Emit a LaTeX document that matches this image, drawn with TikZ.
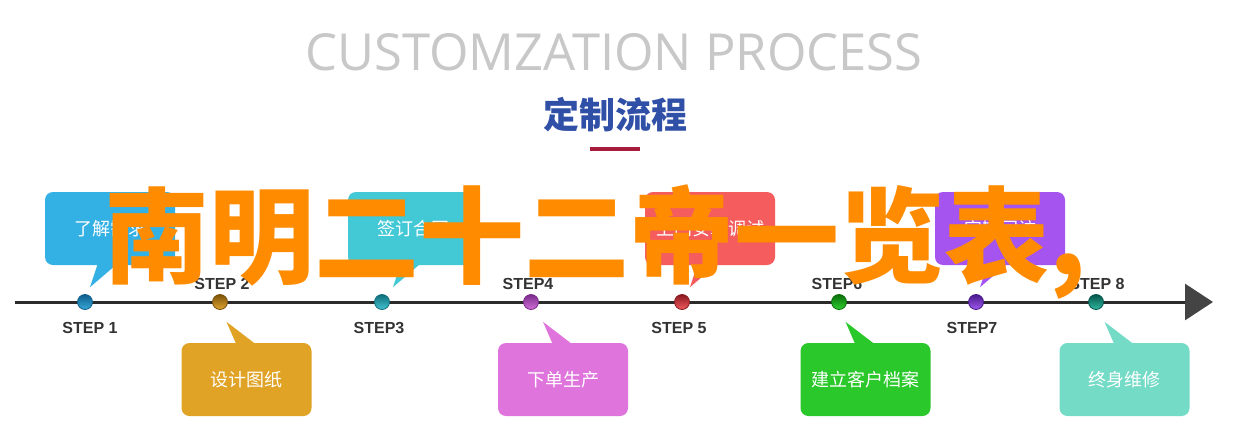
\documentclass[tikz,border=0pt]{standalone}
\usepackage{fontspec}
\setmainfont{Liberation Sans}
\newfontfamily\cjk{Noto Sans CJK SC}
\newfontfamily\titlefont{Open Sans}
\usetikzlibrary{calc,arrows.meta}
\definecolor{titlegray}{HTML}{C8C8C8}
\definecolor{subblue}{HTML}{3050A8}
\definecolor{barred}{HTML}{A51C3C}
\definecolor{linecol}{HTML}{2B2B2B}
\definecolor{arrowgray}{HTML}{444444}
\definecolor{labelcol}{HTML}{333333}
\definecolor{wmorange}{HTML}{FF8C00}
\definecolor{cA}{HTML}{33B0E4}
\definecolor{cB}{HTML}{E0A326}
\definecolor{cC}{HTML}{43C8D6}
\definecolor{cD}{HTML}{DF75DC}
\definecolor{cE}{HTML}{F45C5E}
\definecolor{cF}{HTML}{2AC82A}
\definecolor{cG}{HTML}{A554EF}
\definecolor{cH}{HTML}{73DBC6}
\begin{document}
\begin{tikzpicture}[x=1pt,y=-1pt,
  box/.style={rounded corners=8pt, minimum width=130pt, minimum height=73pt, inner sep=0pt,
    text=white, font=\cjk\fontsize{18}{18}\selectfont},
  stepdot/.style={circle, minimum size=15pt, inner sep=0pt, line width=0.8pt},
  steplabel/.style={inner sep=0pt, text=labelcol, font=\bfseries\fontsize{16}{16}\selectfont}]
\fill[white] (0,0) rectangle (1246,442);
\useasboundingbox (0,0) rectangle (1246,442);

% titles
\node[anchor=base, inner sep=0pt, text=titlegray] (title) at (614,70)
  {\resizebox{617pt}{37pt}{\titlefont CUSTOMZATION PROCESS}};
\node[inner sep=0pt, text=subblue, font=\cjk\bfseries\fontsize{36}{36}\selectfont] (sub) at (615,115) {定制流程};
\node[fill=barred, minimum width=50pt, minimum height=4pt, inner sep=0pt] (bar) at (615,149) {};

% timeline
\coordinate (start) at (15,302);
\coordinate (end) at (1213,302);
\draw[line width=3pt, linecol, -{Triangle[length=28pt,width=36pt,color=arrowgray]}] (start) -- (end);

% top boxes
\node[box, fill=cA] (b1) at (110,228.5) {了解需求};
\node[box, fill=cC] (b3) at (413,228.5) {签订合同};
\node[box, fill=cE] (b5) at (710,228.5) {上门安装调试};
\node[box, fill=cG] (b7) at (1000,228.5) {定期回访};
\fill[cA] ($(b1.south)+(-12,-2)$) -- ($(b1.south)+(-20,22)$) -- ($(b1.south)+(8,-2)$) -- cycle;
\fill[cC] ($(b3.south)+(-12,-2)$) -- ($(b3.south)+(-20,22)$) -- ($(b3.south)+(8,-2)$) -- cycle;
\fill[cE] ($(b5.south)+(-12,-2)$) -- ($(b5.south)+(-20,22)$) -- ($(b5.south)+(8,-2)$) -- cycle;
\fill[cG] ($(b7.south)+(-12,-2)$) -- ($(b7.south)+(-20,22)$) -- ($(b7.south)+(8,-2)$) -- cycle;

% bottom boxes
\node[box, fill=cB] (b2) at (246.5,379.5) {设计图纸};
\node[box, fill=cD] (b4) at (563,379.5) {下单生产};
\node[box, fill=cF] (b6) at (865.5,379.5) {建立客户档案};
\node[box, fill=cH] (b8) at (1124.5,379.5) {终身维修};
\fill[cB] ($(b2.north)+(-10,2)$) -- ($(b2.north)+(-20,-21)$) -- ($(b2.north)+(10,2)$) -- cycle;
\fill[cD] ($(b4.north)+(-10,2)$) -- ($(b4.north)+(-20,-21)$) -- ($(b4.north)+(10,2)$) -- cycle;
\fill[cF] ($(b6.north)+(-10,2)$) -- ($(b6.north)+(-20,-21)$) -- ($(b6.north)+(10,2)$) -- cycle;
\fill[cH] ($(b8.north)+(-10,2)$) -- ($(b8.north)+(-20,-21)$) -- ($(b8.north)+(10,2)$) -- cycle;

% dots
\node[stepdot, draw={rgb,255:red,13;green,95;blue,140}, top color={rgb,255:red,13;green,95;blue,140}, bottom color={rgb,255:red,58;green,168;blue,216}] (d1) at (85,302) {};
\node[stepdot, draw={rgb,255:red,122;green,82;blue,8}, top color={rgb,255:red,122;green,82;blue,8}, bottom color={rgb,255:red,224;green,165;blue,48}] (d2) at (220,302) {};
\node[stepdot, draw={rgb,255:red,14;green,110;blue,122}, top color={rgb,255:red,14;green,110;blue,122}, bottom color={rgb,255:red,69;green,196;blue,210}] (d3) at (382,302) {};
\node[stepdot, draw={rgb,255:red,122;green,42;blue,138}, top color={rgb,255:red,122;green,42;blue,138}, bottom color={rgb,255:red,208;green,112;blue,216}] (d4) at (531,302) {};
\node[stepdot, draw={rgb,255:red,138;green,26;blue,32}, top color={rgb,255:red,138;green,26;blue,32}, bottom color={rgb,255:red,240;green,90;blue,94}] (d5) at (682,302) {};
\node[stepdot, draw={rgb,255:red,10;green,110;blue,10}, top color={rgb,255:red,10;green,110;blue,10}, bottom color={rgb,255:red,48;green,208;blue,48}] (d6) at (839,302) {};
\node[stepdot, draw={rgb,255:red,74;green,26;blue,138}, top color={rgb,255:red,74;green,26;blue,138}, bottom color={rgb,255:red,160;green,88;blue,240}] (d7) at (976,302) {};
\node[stepdot, draw={rgb,255:red,5;green,85;blue,74}, top color={rgb,255:red,5;green,85;blue,74}, bottom color={rgb,255:red,48;green,184;blue,160}] (d8) at (1096,302) {};

% step labels
\node[steplabel] (s1) at (90,327.5) {STEP 1};
\node[steplabel] (s2) at (222,283.5) {STEP 2};
\node[steplabel] (s3) at (379,327.5) {STEP3};
\node[steplabel] (s4) at (528,283.5) {STEP4};
\node[steplabel] (s5) at (679,327.5) {STEP 5};
\node[steplabel] (s6) at (837,283.5) {STEP6};
\node[steplabel] (s7) at (972,327.5) {STEP7};
\node[steplabel] (s8) at (1097,283.5) {STEP 8};

% overlay text
\node[anchor=base west, inner sep=0pt, text=wmorange, font=\cjk\bfseries\fontsize{105}{105}\selectfont] (wm) at (104,275) {南明二十二帝一览表,};
\end{tikzpicture}
\end{document}
